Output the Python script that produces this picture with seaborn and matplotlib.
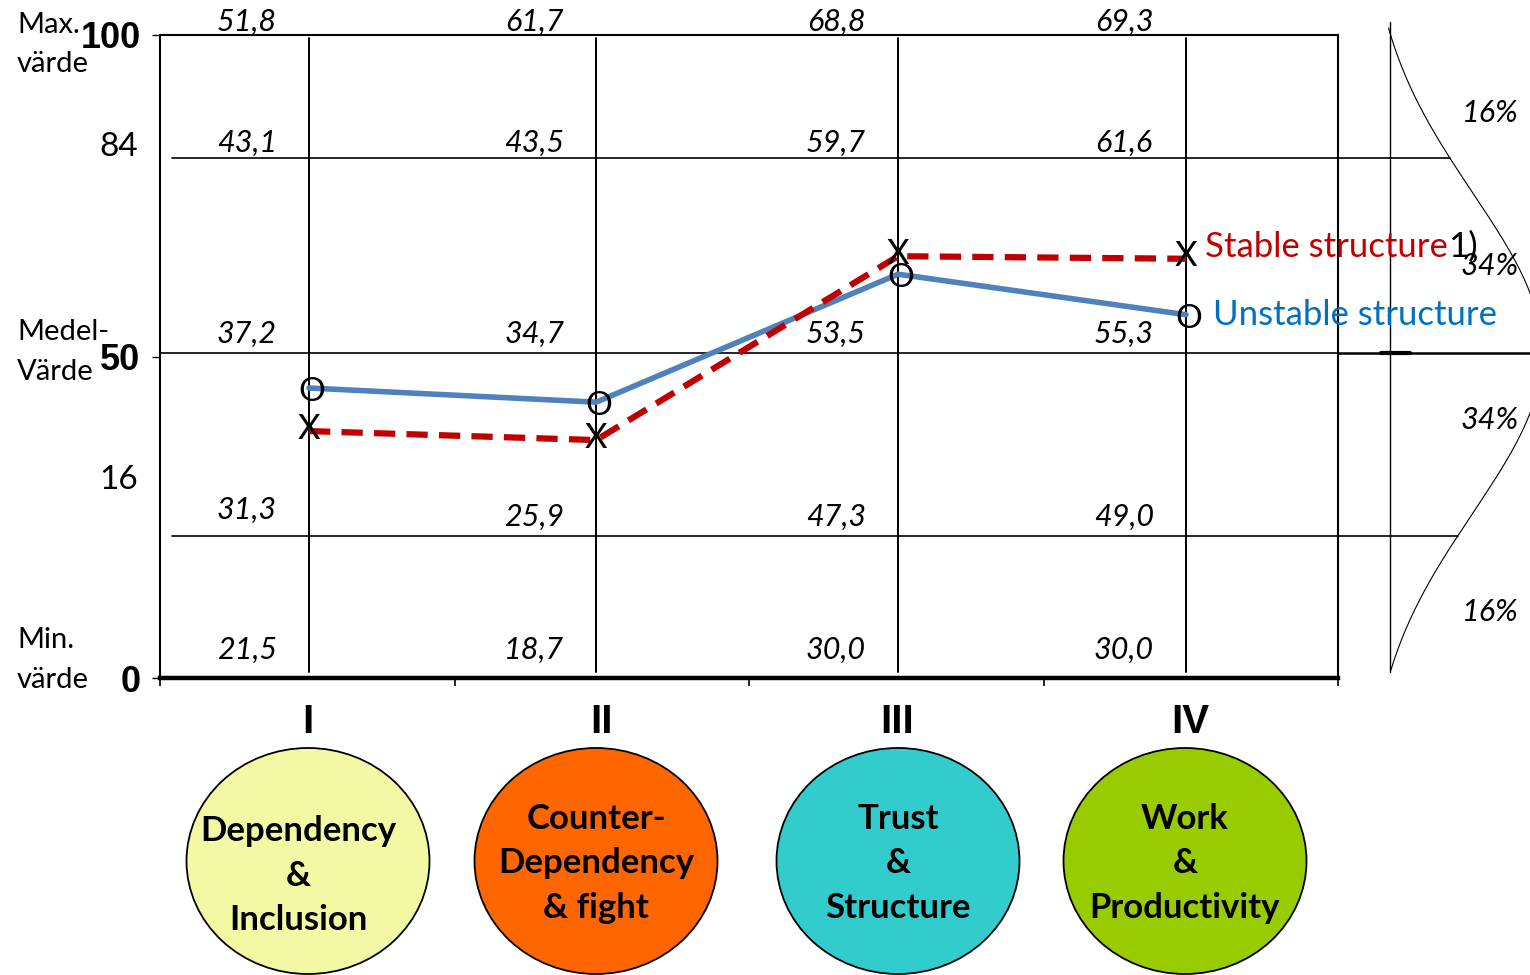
import numpy as np
import pandas as pd
import matplotlib
matplotlib.use("Agg")
import matplotlib.pyplot as plt
import seaborn as sns
from matplotlib.patches import Ellipse

# ---------------- data ----------------
phases = ["I", "II", "III", "IV"]
phase_lines = [["Dependency", "&", "Inclusion"],
               ["Counter-", "Dependency", "& fight"],
               ["Trust", "&", "Structure"],
               ["Work", "&", "Productivity"]]
phase_colors = ["#F3F8A5", "#FF6600", "#33CCCC", "#99CC00"]
phase_x = [0.506, 1.481, 2.506, 3.484]          # category positions on x axis (0..4)
stable = [38.4, 37.0, 65.6, 65.2]               # scale position (0..100)
unstable = [45.1, 42.9, 62.8, 56.5]
row_max = ["51,8", "61,7", "68,8", "69,3"]
row_84 = ["43,1", "43,5", "59,7", "61,6"]
row_50 = ["37,2", "34,7", "53,5", "55,3"]
row_16 = ["31,3", "25,9", "47,3", "49,0"]
row_min = ["21,5", "18,7", "30,0", "30,0"]
row_pos = [102.0, 83.2, 53.6, 25.0, 4.4]
y_ticks = [0, 50, 100]
grid_levels = [80.9, 50.5, 22.1]                # 84 / 50 / 16 lines
pct_labels = ["16%", "34%", "34%", "16%"]

sns.set_theme(style="white")
plt.rcParams["font.family"] = ["Lato", "DejaVu Sans"]

NARROW = ["Liberation Sans Narrow", "Liberation Sans"]

W, H = 1530, 975
fig = plt.figure(figsize=(W / 100, H / 100), dpi=100)
L, R, T, B = 160, 1338, 35, 678
ax = fig.add_axes([L / W, 1 - B / H, (R - L) / W, (B - T) / H])
ax.set_xlim(0, 4)
ax.set_ylim(0, 100)
ax.set_facecolor("none")

# spines
for s in ["top", "right", "left"]:
    ax.spines[s].set_visible(True)
    ax.spines[s].set_color("black")
    ax.spines[s].set_linewidth(1.5)
ax.spines["bottom"].set_color("black")
ax.spines["bottom"].set_linewidth(3.2)

ax.set_xticks([0, 1, 2, 3, 4])
ax.set_xticklabels([])
ax.set_yticks(y_ticks)
ax.set_yticklabels([str(v) for v in y_ticks])
ax.tick_params(axis="x", direction="out", length=6, width=1.2, bottom=True, colors="black")
ax.tick_params(axis="y", direction="out", length=6, width=1.0, left=True, pad=8, colors="black")
for lab in ax.get_yticklabels():
    lab.set_family(NARROW)
    lab.set_fontweight("bold")
    lab.set_fontsize(26)
    lab.set_color("black")

# grid lines (extend beyond the axes to the right)
ax.axhline(grid_levels[0], xmin=0.010, xmax=1.095, color="black", lw=1.2, clip_on=False, zorder=1)
ax.axhline(grid_levels[1], xmin=0.0, xmax=1.0, color="black", lw=1.2, clip_on=False, zorder=1)
ax.axhline(grid_levels[2], xmin=0.010, xmax=1.102, color="black", lw=1.2, clip_on=False, zorder=1)
for xp in phase_x:
    ax.plot([xp, xp], [0.9, 99.5], color="black", lw=1.4, zorder=1)

# series
df = pd.DataFrame({"phase_x": phase_x * 2,
                   "value": stable + unstable,
                   "series": ["Stable"] * 4 + ["Unstable"] * 4})
sns.lineplot(data=df[df.series == "Unstable"], x="phase_x", y="value", color="#4F81BD",
             lw=4.0, sort=False, ax=ax, legend=False, zorder=3)
sns.lineplot(data=df[df.series == "Stable"], x="phase_x", y="value", color="#C00000",
             lw=4.5, sort=False, ax=ax, legend=False, zorder=4)
ax.lines[-1].set_dashes([3.4, 1.8])
ax.set_xlabel("")
ax.set_ylabel("")

for xp, v in zip(phase_x, stable):
    ax.text(xp, v + 0.4, "X", ha="center", va="center", fontsize=25, color="black", zorder=5)
for xp, v in zip(phase_x, unstable):
    ax.text(xp + 0.01, v - 0.6, "O", ha="center", va="center", fontsize=24, color="black", zorder=5)

# italic values in cells
for rp, row in zip(row_pos, [row_max, row_84, row_50, row_16, row_min]):
    for i, (xp, t) in enumerate(zip(phase_x, row)):
        yy = rp
        if rp == 25.0 and i == 0:
            yy = 26.1
        ax.text(xp - 0.2105, yy, t, ha="center", va="center", fontsize=22,
                style="italic", color="black", zorder=2)

# ---------------- overlay in pixel coordinates ----------------
ov = fig.add_axes([0, 0, 1, 1])
ov.set_xlim(0, W)
ov.set_ylim(H, 0)
ov.axis("off")
ov.patch.set_alpha(0)

# left labels
for txt, yy in [("Max.", 25), ("värde", 64), ("Medel-", 332), ("Värde", 372),
                ("Min.", 640), ("värde", 680)]:
    ov.text(17, yy, txt, ha="left", va="center", fontsize=21, color="black")
ov.text(138, 147, "84", ha="right", va="center", fontsize=24, color="black")
ov.text(138, 480, "16", ha="right", va="center", fontsize=24, color="black")

# right panel: 50 line extension, baseline, bell curve
ov.plot([R, W], [353, 353], color="black", lw=1.8)
ov.plot([1381, 1410], [353, 353], color="black", lw=3)
ov.plot([1390, 1390], [22, 672], color="black", lw=1.0)
yy = np.linspace(28, 670, 400)
g = np.exp(-((yy - 353) ** 2) / (2 * 160 ** 2))
g0 = np.exp(-(320 ** 2) / (2 * 160 ** 2))
xx = 1390 + 152 * (g - g0) / (1 - g0)
ov.plot(xx, yy, color="black", lw=0.8)
for t, yv in zip(pct_labels, [113, 266, 420, 612]):
    ov.text(1490, yv, t, ha="center", va="center", fontsize=22, style="italic", color="black")

# legend labels
st = ov.text(1205, 247, "Stable structure", ha="left", va="center", fontsize=25, color="#C00000")
ov.annotate("1)", xy=(1, 0.5), xycoords=st, ha="left", va="center", fontsize=25, color="black")
ov.text(1213, 315, "Unstable structure", ha="left", va="center", fontsize=25, color="#0070C0")

# phase numerals and circles
num_x = [308, 602, 897, 1190]
circ_x = [308, 596, 898, 1185]
for i in range(4):
    ov.text(num_x[i], 722, phases[i], ha="center", va="center", fontsize=29,
            fontweight="bold", family=NARROW, color="black")
    ov.add_patch(Ellipse((circ_x[i], 861), 243, 226, facecolor=phase_colors[i],
                         edgecolor="black", lw=1.3))
    ys = [831, 876, 920] if i == 0 else [819, 863, 908]
    for line, yv in zip(phase_lines[i], ys):
        ov.text(circ_x[i] - (10 if i == 0 else 0), yv, line, ha="center", va="center",
                fontsize=25, fontweight="bold", color="black")

fig.savefig("out.png", dpi=100)
